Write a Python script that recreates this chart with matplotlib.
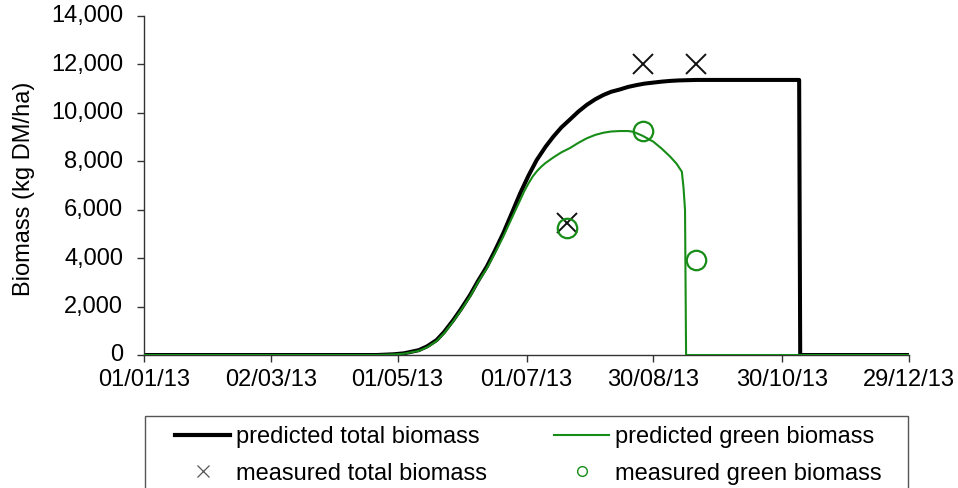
import numpy as np
import pandas as pd
import matplotlib
matplotlib.use("Agg")
import matplotlib.pyplot as plt
from matplotlib.lines import Line2D
from matplotlib.patches import Rectangle
from matplotlib.ticker import FuncFormatter
from matplotlib.transforms import ScaledTranslation

plt.rcParams['font.family'] = ['Liberation Sans', 'DejaVu Sans']

# days after 01/01/2013
pred_days = [0, 110, 118, 123, 130, 134, 138.5, 142, 146.4, 150, 154.3, 158, 162.2, 166,
             170, 174, 178, 182, 185.8, 190, 193.7, 197.5, 201.6, 205.5, 209.5, 213.5,
             217.4, 221, 225.3, 229, 233.2, 237, 241, 245, 249, 253, 257, 262, 310, 310.5, 364]
pred_total = [0, 0, 30, 70, 200, 360, 620, 950, 1450, 1900, 2480, 3050, 3650, 4300,
              5030, 5850, 6680, 7420, 8050, 8600, 9020, 9400, 9730, 10050, 10330, 10560,
              10740, 10870, 10970, 11070, 11150, 11210, 11250, 11290, 11320, 11340, 11350, 11360, 11360, 0, 0]

green_days = [0, 110, 118, 123, 130, 134, 138.5, 142, 146.4, 150, 154.3, 158, 162.2, 166,
              170, 174, 178, 180, 182, 184, 186, 188, 190, 193.7, 197.5, 201.6, 205.5, 209.5, 213.5,
              217.4, 221, 225.3, 229, 231.5, 236, 241, 245, 249, 252, 254.5, 255.3, 256, 256.5, 364]
pred_green = [0, 0, 25, 55, 170, 320, 580, 900, 1400, 1850, 2420, 3000, 3580, 4200,
              4890, 5650, 6400, 6780, 7100, 7380, 7600, 7780, 7930, 8160, 8370, 8550, 8760, 8950, 9090,
              9180, 9230, 9250, 9250, 9220, 9050, 8810, 8520, 8190, 7900, 7570, 6900, 5990, 0, 0]

meas_days = [200, 236, 261]
meas_total = [5450, 12000, 12000]
meas_green = [5230, 9250, 3920]

tick_labels = ['01/01/13', '02/03/13', '01/05/13', '01/07/13', '30/08/13', '30/10/13', '29/12/13']

start = pd.Timestamp('2013-01-01')
def to_date(d):
    return start + pd.to_timedelta(np.asarray(d, dtype=float), unit='D')

tick_dates = pd.to_datetime(tick_labels, format='%d/%m/%y')

green = '#178c17'
fs = 17
fig = plt.figure(figsize=(9.58, 4.88), dpi=100)
ax = fig.add_axes([0.1503, 0.2725, 0.7986, 0.6947])

ax.plot(to_date(pred_days), pred_total, color='black', lw=2.9, zorder=2)
ax.plot(to_date(green_days), pred_green, color=green, lw=1.5, zorder=3)
ax.plot(to_date(meas_days), meas_total, ls='none', marker='x', ms=15, mew=1.4,
        color='#111111', zorder=4)
ax.plot(to_date(meas_days), meas_green, ls='none', marker='o', ms=14, mew=1.6,
        mfc='none', mec=green, zorder=4)

ax.set_xlim(tick_dates[0], tick_dates[-1])
ax.set_ylim(0, 14000)
ax.set_xticks(tick_dates)
ax.set_xticklabels(tick_labels)
ax.set_yticks(np.arange(0, 14001, 2000))
ax.yaxis.set_major_formatter(FuncFormatter(lambda v, p: f'{int(v):,}'))
for s in ['top', 'right']:
    ax.spines[s].set_visible(False)
for s in ['left', 'bottom']:
    ax.spines[s].set_color('#333333')
    ax.spines[s].set_linewidth(1)
ax.tick_params(axis='both', labelsize=fs, direction='out', length=5, width=1,
               color='#333333', labelcolor='black')
ax.tick_params(axis='y', pad=10)
ax.tick_params(axis='x', pad=5)
# nudge y tick labels up a touch so "0" clears the first date label
for lab in ax.get_yticklabels():
    lab.set_transform(lab.get_transform() + ScaledTranslation(0, 1.5 / 72, fig.dpi_scale_trans))
ax.set_ylabel('Biomass (kg DM/ha)', fontsize=fs)
ax.yaxis.set_label_coords(-0.143, 0.49)

# legend, box drawn separately (it runs off the bottom of the picture)
handles = [
    Line2D([], [], color='black', lw=3),
    Line2D([], [], ls='none', marker='x', ms=8, mew=0.9, color='#555555'),
    Line2D([], [], color=green, lw=1.5),
    Line2D([], [], ls='none', marker='o', ms=7, mew=1.0, mfc='none', mec=green),
]
labels = ['predicted total biomass', 'measured total biomass',
          'predicted green biomass', 'measured green biomass']
fig.legend(handles, labels, ncol=2, loc='upper left', bbox_to_anchor=(175 / 958, 1 - 426 / 488),
           frameon=False, borderpad=0, borderaxespad=0, fontsize=fs, handlelength=2.33,
           handletextpad=0.25, columnspacing=2.85, labelspacing=0.62)
fig.patches.append(Rectangle((145 / 958, -0.05), (908 - 145) / 958, 0.05 + 1 - 416 / 488,
                             transform=fig.transFigure, fill=False, ec='#555555', lw=1))

fig.savefig('out.png', dpi=100)
